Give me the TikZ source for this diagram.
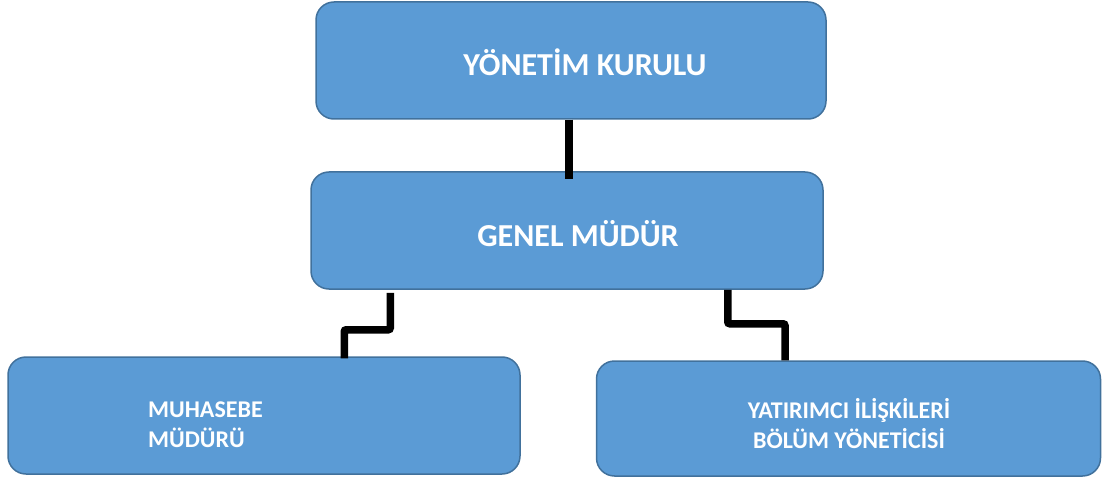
\documentclass[tikz,border=0pt]{standalone}
\usepackage{fontspec}
\setmainfont{Carlito}
\definecolor{boxblue}{HTML}{5B9BD5}
\definecolor{boxedge}{HTML}{41719C}
\tikzset{
  unit/.style={draw=boxedge, line width=1.5pt, fill=boxblue, rounded corners=18pt, inner sep=0pt},
  title/.style={text=white, font=\bfseries\fontsize{32}{38}\selectfont},
  subtitle/.style={text=white, font=\bfseries\fontsize{24}{30}\selectfont},
  link/.style={line width=7.5pt, rounded corners=2pt}
}
\begin{document}
\begin{tikzpicture}[x=1pt,y=-1pt]
   \useasboundingbox (0,0) rectangle (1102,481);
   % boxes
   \node[unit, minimum width=510pt, minimum height=117pt] (board) at (571,60.5) {};
   \node[unit, minimum width=512pt, minimum height=117pt] (gm) at (567,230.5) {};
   \node[unit, minimum width=512pt, minimum height=117pt] (acc) at (264,415.5) {};
   \node[unit, minimum width=504pt, minimum height=115pt] (ir) at (848.5,418.5) {};
   % texts
   \node[title] (boardtxt) at (585,62) {YÖNETİM KURULU};
   \node[title] (gmtxt) at (578,234) {GENEL MÜDÜR};
   \node[subtitle, align=left, anchor=west, inner sep=0pt] (acctxt) at (148,425) {MUHASEBE\\MÜDÜRÜ};
   \node[subtitle, align=center] (irtxt) at (849,424) {YATIRIMCI İLİŞKİLERİ\\BÖLÜM YÖNETİCİSİ};
   % connectors
   \draw[link] ([xshift=-2pt]board.south) -- ([xshift=-2pt,yshift=-8pt]board.south |- gm.north);
   \draw[link] ([xshift=80pt,yshift=-3pt]gm.south west) -- ++(0,37) -| ([xshift=337pt,yshift=-2pt]acc.north west);
   \draw[link] ([xshift=-96pt]gm.south east) -- ++(0,34) -| ([xshift=-63.5pt]ir.north);
\end{tikzpicture}
\end{document}
